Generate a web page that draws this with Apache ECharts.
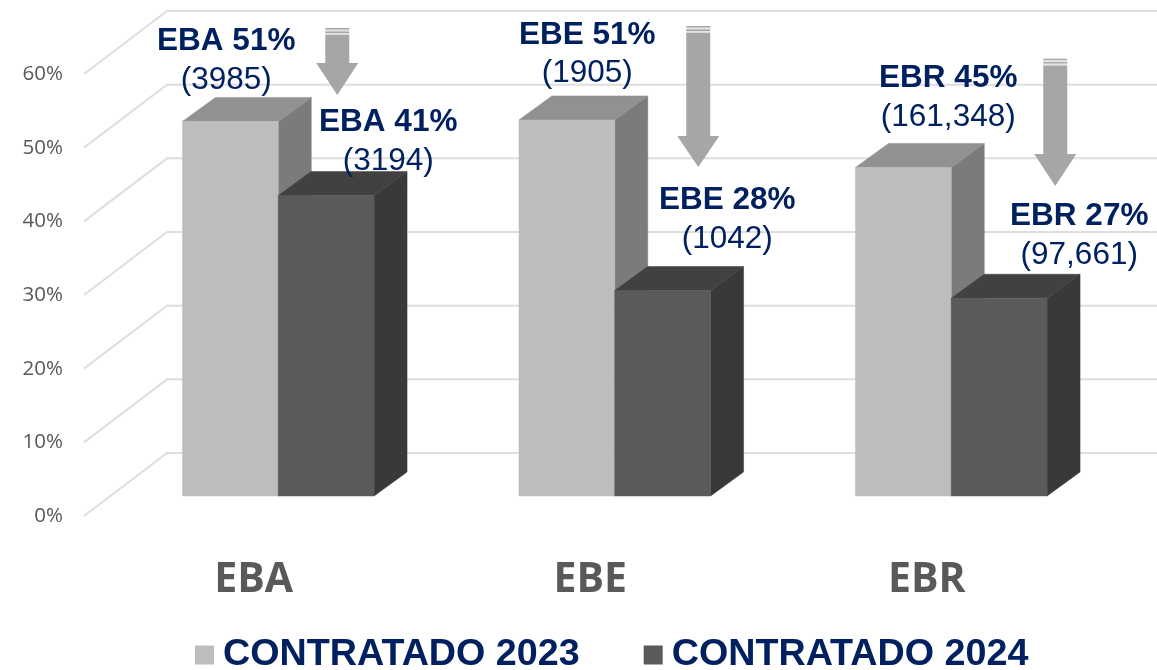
<!DOCTYPE html>
<html>
<head>
<meta charset="utf-8">
<style>html,body{margin:0;padding:0;background:#fff}#c{width:1157px;height:670px}</style>
<script src="https://cdn.jsdelivr.net/npm/echarts@6/dist/echarts.min.js"></script>
</head>
<body>
<div id="c"></div>
<script>
// ---- data ----
const categories = ['EBA', 'EBE', 'EBR'];
const seriesNames = ['CONTRATADO 2023', 'CONTRATADO 2024'];
const values2023 = [50.85, 51.05, 44.6];
const values2024 = [40.8, 27.9, 26.85];
const tickValues = [0, 10, 20, 30, 40, 50, 60];
const titles2023 = ['EBA 51%', 'EBE 51%', 'EBR 45%'];
const counts2023 = ['(3985)', '(1905)', '(161,348)'];
const titles2024 = ['EBA 41%', 'EBE 28%', 'EBR 27%'];
const counts2024 = ['(3194)', '(1042)', '(97,661)'];

// ---- layout ----
const NAVY = '#002060';
const DEPTH = [33, -24];          // bar depth
const WALL = [83, -63];           // wall depth
const FLOOR_LIFT = 20;            // bars sit this far above the front axis plane
const BAR_RATIO = 95.8 / 336.5;
const AXIS_LEFT = 84;
// annotation placement, relative to category centre (dx) and page top (y)
const labelPos2023 = [[-52, 41, 80], [-27.5, 35, 73], [-3, 78, 117]];
const labelPos2024 = [[110, 122, 161], [112.5, 200, 239], [128, 216, 255]];
const arrowPos = [[59, 28, 63, 95], [83.5, 26, 136, 167], [104, 58.7, 154, 186]];
const palette = {
  light: {front: '#bdbdbd', top: '#919191', side: '#7b7b7b'},
  dark: {front: '#5a5a5a', top: '#414141', side: '#393939'}
};

function poly(pts, color) {
  return {type: 'polygon', shape: {points: pts},
    style: {fill: color, stroke: color, lineWidth: 0.5}};
}

function barRenderer(side, colors) {
  return function (params, api) {
    const p = api.coord([api.value(0), api.value(1)]);
    const base = api.coord([api.value(0), 0]);
    const w = api.size([1, 0])[0] * BAR_RATIO;
    const x0 = side < 0 ? p[0] - w : p[0];
    const x1 = x0 + w;
    const yt = p[1] - FLOOR_LIFT;
    const yb = base[1] - FLOOR_LIFT;
    const [dx, dy] = DEPTH;
    return {type: 'group', children: [
      poly([[x1, yt], [x1 + dx, yt + dy], [x1 + dx, yb + dy], [x1, yb]], colors.side),
      poly([[x0, yt], [x0 + dx, yt + dy], [x1 + dx, yt + dy], [x1, yt]], colors.top),
      poly([[x0, yt], [x1, yt], [x1, yb], [x0, yb]], colors.front)
    ]};
  };
}

function wallRenderer(params, api) {
  const y = api.coord([0, api.value(0)])[1];
  return {type: 'polyline',
    shape: {points: [[AXIS_LEFT, y], [AXIS_LEFT + WALL[0], y + WALL[1]], [1157, y + WALL[1]]]},
    style: {fill: null, stroke: '#dedede', lineWidth: 2}};
}

function noteRenderer(titles, counts, pos) {
  return function (params, api) {
    const i = api.value(0);
    const cx = api.coord([i, 0])[0] + pos[i][0];
    return {type: 'group', children: [
      {type: 'text', x: cx, y: pos[i][1], style: {text: titles[i], x: 0, y: 0, align: 'center', verticalAlign: 'middle',
        fill: NAVY, font: 'bold 31.5px "Liberation Sans", Arial, sans-serif'}},
      {type: 'text', x: cx, y: pos[i][2], style: {text: counts[i], x: 0, y: 0, align: 'center', verticalAlign: 'middle',
        fill: NAVY, font: '31.5px "Liberation Sans", Arial, sans-serif'}}
    ]};
  };
}

function arrowRenderer(params, api) {
  const i = api.value(0);
  const cx = api.coord([i, 0])[0] + arrowPos[i][0];
  const top = arrowPos[i][1], neck = arrowPos[i][2], tip = arrowPos[i][3];
  const c = '#a6a6a6';
  const s = 12, h = 21;
  const rect = (y0, y1, fill) => ({type: 'rect', shape: {x: cx - s, y: y0, width: 2 * s, height: y1 - y0}, style: {fill}});
  return {type: 'group', children: [
    rect(top, top + 1.7, c),
    rect(top + 1.7, top + 3.4, '#e4e4e4'),
    rect(top + 3.4, top + 5, c),
    rect(top + 5, top + 6.7, '#e4e4e4'),
    {type: 'polygon', shape: {points: [[cx - s, top + 6.7], [cx + s, top + 6.7], [cx + s, neck], [cx + h, neck], [cx, tip], [cx - h, neck], [cx - s, neck]]},
      style: {fill: c}}
  ]};
}

const catData = categories.map((c, i) => [i]);

const option = {
  animation: false,
  backgroundColor: '#ffffff',
  grid: {left: 110, width: 1009.5, top: 74, bottom: 154, containLabel: false},
  legend: {
    left: 190, top: 631, itemWidth: 19, itemHeight: 19, itemGap: 64, icon: 'rect',
    data: seriesNames,
    textStyle: {color: NAVY, fontSize: 37.7, fontWeight: 'bold', fontFamily: '"Liberation Sans", Arial, sans-serif', padding: [7, 0, 0, 4]}
  },
  xAxis: {
    type: 'category', data: categories,
    axisLine: {show: false}, axisTick: {show: false}, splitLine: {show: false},
    axisLabel: {color: '#595959', fontSize: 41, fontWeight: 'bold', fontFamily: '"Open Sans", sans-serif', margin: 44, padding: [0, 49, 0, 0]}
  },
  yAxis: {
    type: 'value', min: 0, max: 60, interval: 10,
    axisLine: {show: false}, axisTick: {show: false}, splitLine: {show: false},
    axisLabel: {formatter: '{value}%', color: '#595959', fontSize: 20.5, fontFamily: '"Open Sans", sans-serif', margin: 47}
  },
  series: [
    {type: 'custom', silent: true, z: 1, coordinateSystem: 'cartesian2d', renderItem: wallRenderer,
      data: tickValues.map(v => [v]), encode: {y: 0}},
    {type: 'custom', name: seriesNames[0], z: 2, renderItem: barRenderer(-1, palette.light),
      itemStyle: {color: palette.light.front},
      data: categories.map((c, i) => [i, values2023[i]]), encode: {x: 0, y: 1}},
    {type: 'custom', name: seriesNames[1], z: 3, renderItem: barRenderer(1, palette.dark),
      itemStyle: {color: palette.dark.front},
      data: categories.map((c, i) => [i, values2024[i]]), encode: {x: 0, y: 1}},
    {type: 'custom', silent: true, z: 4, renderItem: arrowRenderer, data: catData, encode: {x: 0}},
    {type: 'custom', silent: true, z: 5, renderItem: noteRenderer(titles2023, counts2023, labelPos2023), data: catData, encode: {x: 0}},
    {type: 'custom', silent: true, z: 5, renderItem: noteRenderer(titles2024, counts2024, labelPos2024), data: catData, encode: {x: 0}}
  ]
};
const chart = echarts.init(document.getElementById('c'), null, {renderer: 'canvas'});
chart.setOption(option);
</script>
</body>
</html>
